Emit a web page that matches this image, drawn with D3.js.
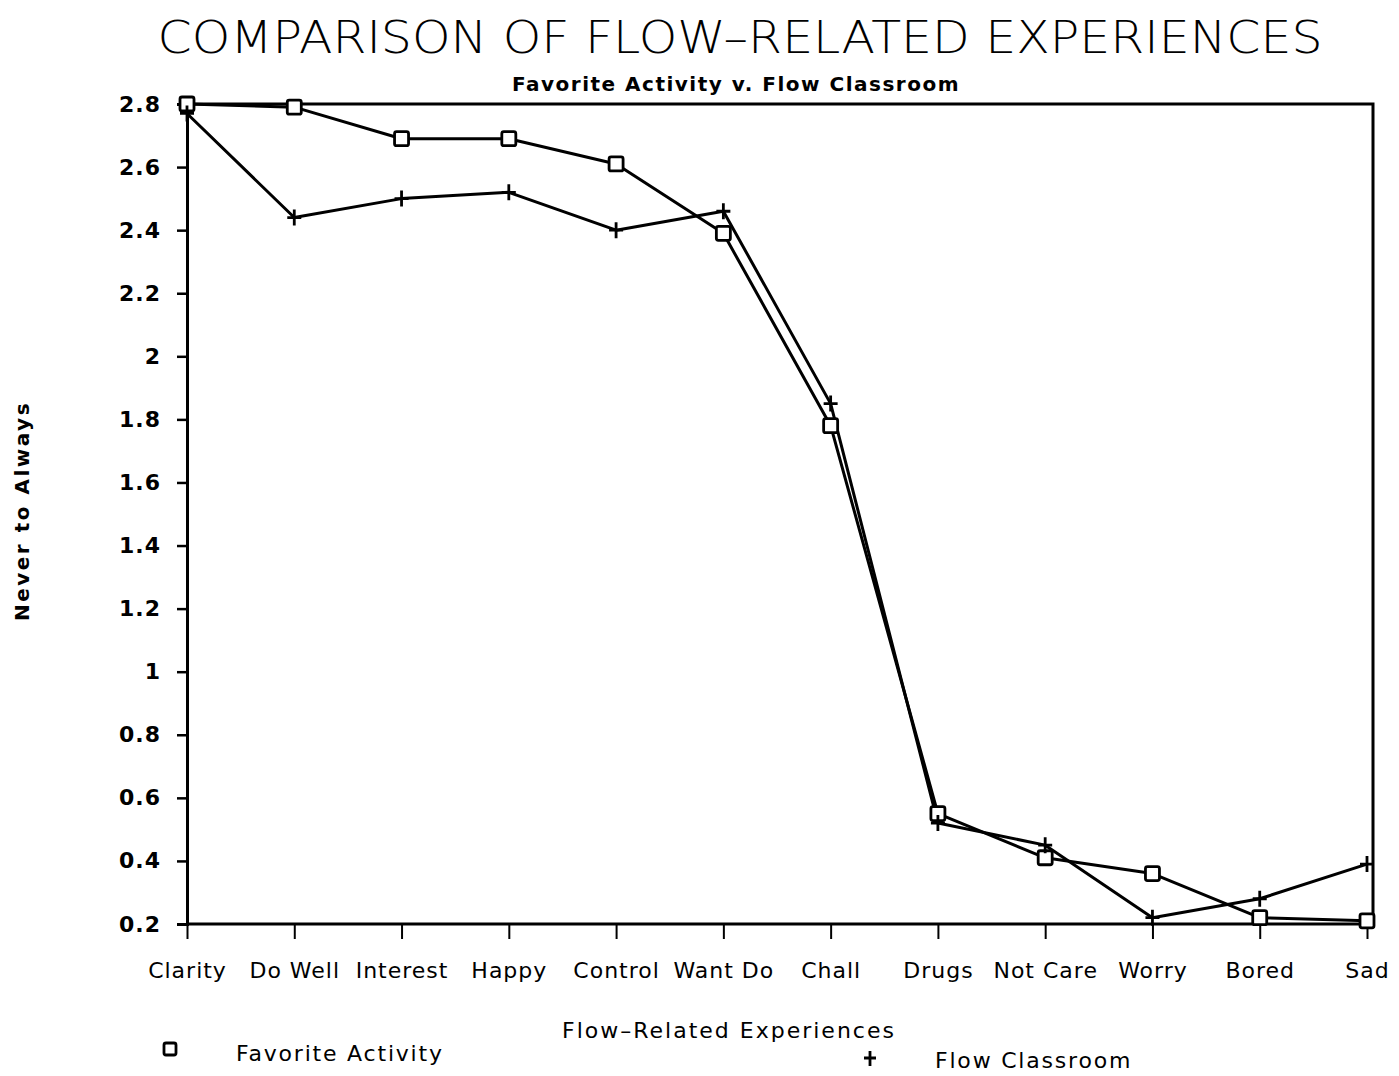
<!DOCTYPE html>
<html>
<head>
<meta charset="utf-8">
<script src="https://cdn.jsdelivr.net/npm/d3@7"></script>
<style>
  body { margin: 0; background: #fff; }
  text { font-family: "DejaVu Sans", sans-serif; fill: #000; }
</style>
</head>
<body>
<svg id="chart" width="1399" height="1076"></svg>
<script>
// Categories along the x axis
var categories = ["Clarity", "Do Well", "Interest", "Happy", "Control", "Want Do",
    "Chall", "Drugs", "Not Care", "Worry", "Bored", "Sad"];

// Series values
var favoriteActivity = [2.80, 2.79, 2.69, 2.69, 2.61, 2.39, 1.78, 0.55, 0.41, 0.36, 0.22, 0.21];
var flowClassroom = [2.77, 2.44, 2.50, 2.52, 2.40, 2.46, 1.85, 0.52, 0.45, 0.22, 0.28, 0.39];

// Y tick values
var yTicks = [0.2, 0.4, 0.6, 0.8, 1, 1.2, 1.4, 1.6, 1.8, 2, 2.2, 2.4, 2.6, 2.8];

var svg = d3.select("#chart");

// Plot area
var plotLeft = 187, plotRight = 1367, plotTop = 104, plotBottom = 924, frameRight = 1373;

var x = d3.scalePoint()
    .domain(categories)
    .range([plotLeft, plotRight]);

var y = d3.scaleLinear()
    .domain([0.2, 2.8])
    .range([plotBottom, plotTop]);

// Frame (top and right sides)
svg.append("path")
    .attr("d", "M" + plotLeft + "," + y(2.8) + "H" + frameRight + "V" + (plotBottom + 4))
    .attr("fill", "none")
    .attr("stroke", "#000")
    .attr("stroke-width", 3);

// Y axis
var yAxis = svg.append("g")
    .attr("transform", "translate(" + plotLeft + ",0)")
    .call(d3.axisLeft(y).tickValues(yTicks).tickSize(10).tickPadding(16)
        .tickFormat(function (d) { return d3.format("~g")(d); }));
yAxis.select(".domain").attr("stroke-width", 3);
yAxis.selectAll(".tick line").attr("stroke-width", 2.5);
yAxis.selectAll("text")
    .attr("font-size", 22)
    .attr("font-weight", "bold")
    .attr("letter-spacing", 1)
    .attr("fill", "#000")
    .style("font-family", "'DejaVu Sans', sans-serif");

// X axis
var xAxis = svg.append("g")
    .attr("transform", "translate(0," + plotBottom + ")")
    .call(d3.axisBottom(x).tickSize(15).tickPadding(23).tickSizeOuter(0));
xAxis.select(".domain")
    .attr("d", "M" + plotLeft + ",0H" + frameRight)
    .attr("stroke-width", 3);
xAxis.selectAll(".tick line").attr("stroke-width", 2);
xAxis.selectAll("text")
    .attr("font-size", 22)
    .attr("letter-spacing", 1)
    .attr("font-weight", 500)
    .attr("fill", "#000")
    .style("font-family", "'DejaVu Sans', sans-serif");

// Lines
var line = d3.line()
    .x(function (d, i) { return x(categories[i]); })
    .y(function (d) { return y(d); });

[favoriteActivity, flowClassroom].forEach(function (series) {
    svg.append("path")
        .datum(series)
        .attr("d", line)
        .attr("fill", "none")
        .attr("stroke", "#000")
        .attr("stroke-width", 3)
        .attr("stroke-linejoin", "round");
});

// Square markers for Favorite Activity
svg.selectAll(".sq")
    .data(favoriteActivity)
    .enter().append("rect")
    .attr("class", "sq")
    .attr("x", function (d, i) { return x(categories[i]) - 7; })
    .attr("y", function (d) { return y(d) - 7; })
    .attr("width", 14)
    .attr("height", 14)
    .attr("rx", 2)
    .attr("fill", "#fff")
    .attr("stroke", "#000")
    .attr("stroke-width", 2.8);

// Plus markers for Flow Classroom
svg.selectAll(".plus")
    .data(flowClassroom)
    .enter().append("path")
    .attr("class", "plus")
    .attr("d", function (d, i) {
        var cx = x(categories[i]), cy = y(d);
        return "M" + (cx - 7) + "," + cy + "H" + (cx + 7) + "M" + cx + "," + (cy - 8) + "V" + (cy + 8);
    })
    .attr("stroke", "#000")
    .attr("stroke-width", 2.8);

// Title and subtitle
svg.append("text")
    .attr("x", 740)
    .attr("y", 53)
    .attr("text-anchor", "middle")
    .attr("font-size", 44)
    .attr("textLength", 1165)
    .attr("lengthAdjust", "spacingAndGlyphs")
    .style("font-weight", 300)
    .text("COMPARISON OF FLOW\u2013RELATED EXPERIENCES");

svg.append("text")
    .attr("x", 736)
    .attr("y", 91)
    .attr("text-anchor", "middle")
    .attr("font-size", 20)
    .attr("font-weight", "bold")
    .attr("letter-spacing", 1.5)
    .text("Favorite Activity v. Flow Classroom");

// Axis titles
svg.append("text")
    .attr("transform", "translate(29,511) rotate(-90)")
    .attr("text-anchor", "middle")
    .attr("font-size", 20)
    .attr("font-weight", "bold")
    .attr("letter-spacing", 2.5)
    .text("Never to Always");

svg.append("text")
    .attr("x", 729)
    .attr("y", 1038)
    .attr("text-anchor", "middle")
    .attr("font-size", 22)
    .attr("font-weight", 500)
    .attr("letter-spacing", 2)
    .text("Flow\u2013Related Experiences");

// Legend
svg.append("rect")
    .attr("x", 164).attr("y", 1043)
    .attr("width", 12).attr("height", 12)
    .attr("rx", 2)
    .attr("fill", "#fff")
    .attr("stroke", "#000")
    .attr("stroke-width", 2.8);
svg.append("text")
    .attr("x", 236).attr("y", 1061)
    .attr("font-size", 22)
    .attr("font-weight", 500)
    .attr("letter-spacing", 1.8)
    .text("Favorite Activity");

svg.append("path")
    .attr("d", "M864,1058H876M870,1051V1066")
    .attr("stroke", "#000")
    .attr("stroke-width", 2.8);
svg.append("text")
    .attr("x", 935).attr("y", 1068)
    .attr("font-size", 22)
    .attr("font-weight", 500)
    .attr("letter-spacing", 1.8)
    .text("Flow Classroom");
</script>
</body>
</html>
